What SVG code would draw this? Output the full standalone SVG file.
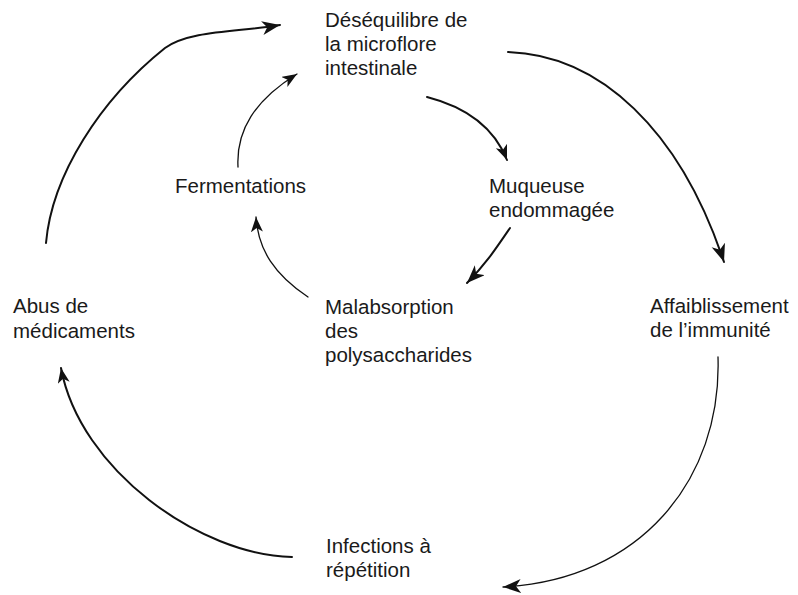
<svg xmlns="http://www.w3.org/2000/svg" width="798" height="595" viewBox="0 0 798 595">
<style>
text{font-family:"Liberation Sans",Arial,sans-serif;font-size:20.5px;fill:#1a1a1a}
.c{fill:none;stroke:#111;stroke-linecap:round}
.thick{stroke-width:2}
.thin{stroke-width:1.3}
</style>
<defs>
<marker id="ah" markerUnits="userSpaceOnUse" markerWidth="22" markerHeight="16" refX="18" refY="7" orient="auto">
<path d="M0,0 L18,7 L0,14 L5,7 Z" fill="#111"/>
</marker>
<marker id="ahs" markerUnits="userSpaceOnUse" markerWidth="18" markerHeight="14" refX="15" refY="6" orient="auto">
<path d="M0,0 L15,6 L0,12 L4,6 Z" fill="#111"/>
</marker>
</defs>
<rect width="798" height="595" fill="#fff"/>
<g id="connectors">
<path class="c thick" d="M46,243 C52,175 100,100 165,48 C190,30 240,32 280,25" marker-end="url(#ah)"/>
<path class="c thin" d="M238,167 C236,130 255,100 297,74" marker-end="url(#ahs)"/>
<path class="c thick" d="M508,52 C600,55 680,130 724,262" marker-end="url(#ah)"/>
<path class="c thick" d="M427,97 C470,108 495,130 507,160" marker-end="url(#ahs)"/>
<path class="c thick" d="M510,228 C495,250 485,265 467,283" marker-end="url(#ah)"/>
<path class="c thin" d="M308,297 C275,275 258,250 256,217" marker-end="url(#ahs)"/>
<path class="c thin" d="M718,357 C722,480 640,580 503,587" marker-end="url(#ah)"/>
<path class="c thick" d="M292,557 C200,555 80,470 61,368" marker-end="url(#ahs)"/>
</g>
<g id="desequilibre"><text x="325" y="27">Déséquilibre de</text><text x="325" y="51">la microflore</text><text x="325" y="75">intestinale</text></g>
<g id="fermentations"><text x="175" y="193">Fermentations</text></g>
<g id="muqueuse"><text x="489" y="193">Muqueuse</text><text x="489" y="217">endommagée</text></g>
<g id="malabsorption"><text x="325" y="314">Malabsorption</text><text x="325" y="338">des</text><text x="325" y="362">polysaccharides</text></g>
<g id="abus"><text x="13" y="313">Abus de</text><text x="13" y="338">médicaments</text></g>
<g id="affaiblissement"><text x="650" y="313">Affaiblissement</text><text x="650" y="337">de l’immunité</text></g>
<g id="infections"><text x="326" y="553">Infections à</text><text x="326" y="577">répétition</text></g>
</svg>
